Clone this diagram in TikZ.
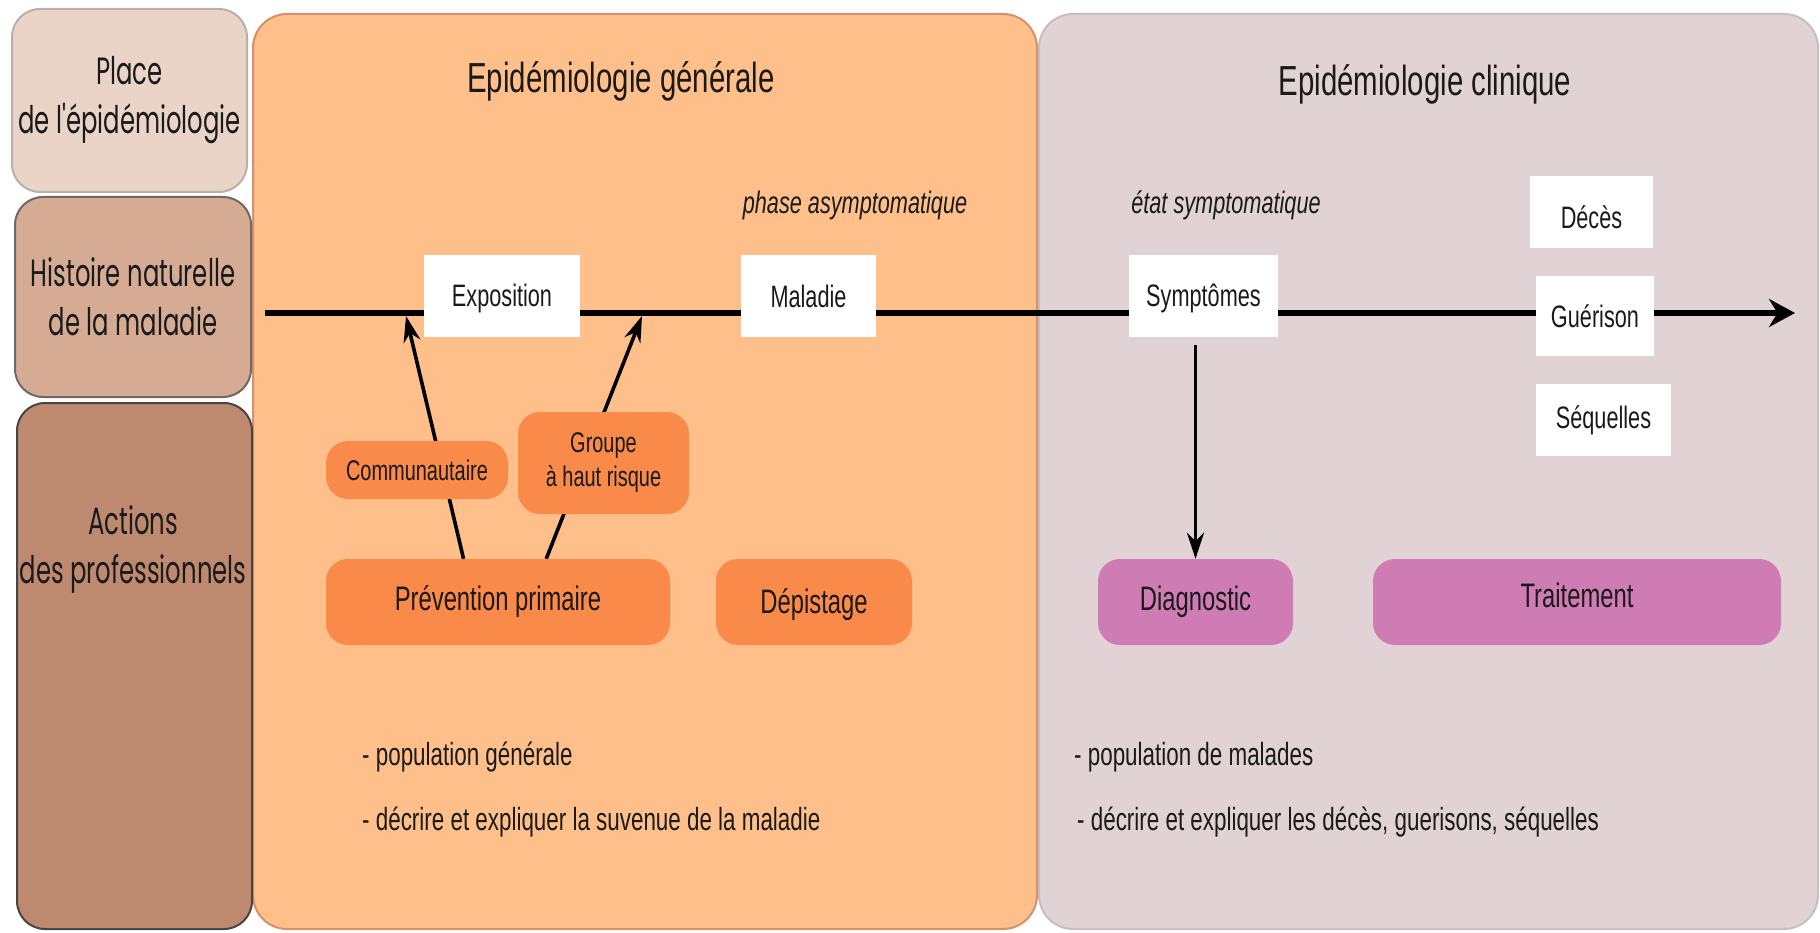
\documentclass[tikz,border=0pt]{standalone}
\usepackage{fontspec}
\setmainfont{Liberation Sans}[FakeStretch=0.7]
\newfontfamily\leftfont{Poppins}[FakeStretch=0.64]
\usetikzlibrary{arrows.meta,calc}
\pgfdeclarelayer{bg}\pgfdeclarelayer{mid}\pgfsetlayers{bg,mid,main}
\definecolor{placec}{HTML}{EAD4C7}\definecolor{placeb}{HTML}{B8B0A9}
\definecolor{histc}{HTML}{D5AB94}\definecolor{histb}{HTML}{6E6965}
\definecolor{actc}{HTML}{BE8A6F}\definecolor{actb}{HTML}{4A4440}
\definecolor{orpanel}{HTML}{FEBF8A}\definecolor{orpanelb}{HTML}{D5906C}
\definecolor{pupanel}{HTML}{E0D2D5}\definecolor{pupanelb}{HTML}{CABDC0}
\definecolor{obox}{HTML}{F98A4A}\definecolor{pbox}{HTML}{D07CB4}
\definecolor{ink}{HTML}{1A1A1A}
\newcommand{\shiftv}[2]{\raisebox{#1}[\height][\depth]{#2}}
\begin{document}
\begin{tikzpicture}[x=1pt,y=-1pt,
  every node/.style={text=ink, inner sep=0pt},
  leftbox/.style={rounded corners=28pt, line width=2pt, align=center,
    font=\leftfont\fontsize{38}{49}\selectfont},
  panel/.style={rounded corners=34pt, line width=2pt},
  titletext/.style={font=\fontsize{42}{50}\selectfont},
  whitebox/.style={fill=white, font=\fontsize{31}{36}\selectfont},
  obx/.style={fill=obox, rounded corners=22pt, align=center},
  pbx/.style={fill=pbox, rounded corners=22pt, align=center,
    font=\fontsize{34}{40}\selectfont},
  phase/.style={font=\itshape\fontsize{31}{36}\selectfont},
  note/.style={anchor=west, font=\fontsize{32}{38}\selectfont},
  arr/.style={line width=3.6pt, -{Stealth[length=26pt,width=17pt]}},
  timeline/.style={line width=5.5pt, -{Stealth[length=26pt,width=28pt]}}]
\useasboundingbox (0,0) rectangle (1820,933);

% left column
\node[leftbox, fill=placec, draw=placeb, minimum width=235pt, minimum height=183pt] (place) at (129.5,100.5) {Place\\de l'épidémiologie};
\node[leftbox, fill=histc, draw=histb, minimum width=236pt, minimum height=200pt] (hist) at (133,297) {Histoire naturelle\\de la maladie};
\node[leftbox, fill=actc, draw=actb, minimum width=235pt, minimum height=526pt] (act) at (134.5,666) {};
\node[font=\leftfont\fontsize{38}{49}\selectfont, align=center] (acttext) at (133,549) {Actions\\des professionnels};

% panels
\begin{pgfonlayer}{bg}
\node[panel, fill=orpanel, draw=orpanelb, minimum width=784pt, minimum height=915pt] (gen) at (645,471.5) {};
\node[panel, fill=pupanel, draw=pupanelb, minimum width=779pt, minimum height=915pt] (clin) at (1428.5,471.5) {};
\end{pgfonlayer}

\node[titletext] (titlegen) at (621,81) {Epidémiologie générale};
\node[titletext] (titleclin) at (1425,84) {Epidémiologie clinique};

\node[phase] (asym) at (855,205) {phase asymptomatique};
\node[phase] (sympph) at (1226,205) {état symptomatique};

% timeline
\coordinate (tstart) at (265,313);
\coordinate (tend) at (1795,313);
\begin{pgfonlayer}{mid}
\draw[timeline] (tstart) -- (tend);
\end{pgfonlayer}

\node[whitebox, minimum width=156pt, minimum height=82pt] (expo) at (502,296) {\shiftv{-2pt}{Exposition}};
\node[whitebox, minimum width=135pt, minimum height=82pt] (mal) at (808.5,296) {Maladie};
\node[whitebox, minimum width=149pt, minimum height=82pt] (sympt) at (1203.5,296) {\shiftv{-2pt}{Symptômes}};
\node[whitebox, minimum width=123pt, minimum height=72pt] (deces) at (1591.5,212) {\shiftv{-5pt}{Décès}};
\node[whitebox, minimum width=118pt, minimum height=80pt] (guer) at (1595,316) {Guérison};
\node[whitebox, minimum width=135pt, minimum height=72pt] (seq) at (1603.5,420) {Séquelles};

% action boxes
\node[obx, minimum width=182pt, minimum height=58pt, font=\fontsize{28.5}{34}\selectfont] (comm) at (417,470) {Communautaire};
\node[obx, minimum width=171pt, minimum height=102pt, font=\fontsize{28.5}{34}\selectfont] (grp) at (603.5,463) {Groupe\\à haut risque};
\node[obx, minimum width=344pt, minimum height=86pt, font=\fontsize{34}{40}\selectfont] (prev) at (498,602) {Prévention primaire};
\node[obx, minimum width=196pt, minimum height=86pt, font=\fontsize{34}{40}\selectfont] (dep) at (814,602) {\shiftv{-3pt}{Dépistage}};
\node[pbx, minimum width=195pt, minimum height=86pt] (diag) at (1195.5,602) {Diagnostic};
\node[pbx, minimum width=408pt, minimum height=86pt] (trait) at (1577,602) {\shiftv{7pt}{Traitement}};

% arrows
\coordinate (t1) at (406,316);
\coordinate (t2) at (642,316);
\begin{pgfonlayer}{mid}
\draw[arr] ($(prev.north west)!0.40!(prev.north east)$) -- (t1);
\draw[arr] ($(prev.north west)!0.64!(prev.north east)$) -- (t2);
\draw[arr, shorten <=8pt] (sympt.south -| diag.north) -- (diag.north);
\end{pgfonlayer}

% notes
\node[note] (n1) at (362,757) {- population générale};
\node[note] (n2) at (362,822) {- décrire et expliquer la suvenue de la maladie};
\node[note] (n3) at (1074,757) {- population de malades};
\node[note] (n4) at (1077,822) {- décrire et expliquer les décès, guerisons, séquelles};
\end{tikzpicture}
\end{document}
